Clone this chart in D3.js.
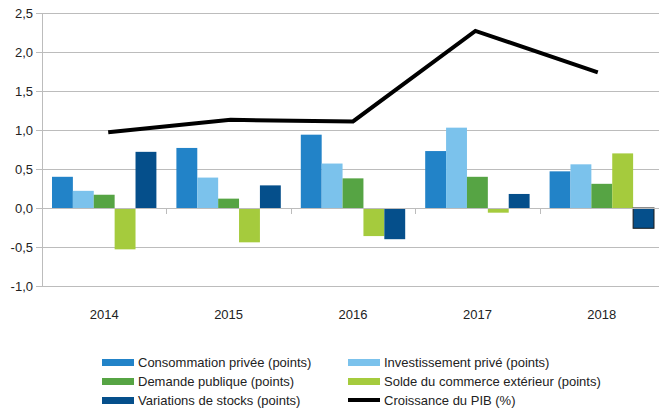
<!DOCTYPE html>
<html>
<head>
<meta charset="utf-8">
<script src="https://cdn.jsdelivr.net/npm/d3@7"></script>
<style>
  body { margin: 0; background: #fff; }
  text { font-family: "Liberation Sans", Arial, sans-serif; fill: #222; }
</style>
</head>
<body>
<svg class="chart" width="659" height="411"></svg>
<script>
var years = ['2014', '2015', '2016', '2017', '2018'];
var consommation = [0.40, 0.77, 0.94, 0.73, 0.47];
var investissement = [0.22, 0.39, 0.57, 1.03, 0.56];
var demande = [0.17, 0.12, 0.38, 0.40, 0.31];
var solde = [-0.53, -0.44, -0.36, -0.06, 0.70];
var stocks = [0.72, 0.29, -0.40, 0.18, -0.26];
var pib = [0.97, 1.13, 1.11, 2.27, 1.74];
var yTicks = [-1.0, -0.5, 0, 0.5, 1.0, 1.5, 2.0, 2.5];

var series = [
  { name: 'Consommation privée (points)', values: consommation, color: '#2283c8' },
  { name: 'Investissement privé (points)', values: investissement, color: '#7bc2ec' },
  { name: 'Demande publique (points)', values: demande, color: '#56a444' },
  { name: 'Solde du commerce extérieur (points)', values: solde, color: '#a5cb3d' },
  { name: 'Variations de stocks (points)', values: stocks, color: '#054f8b' }
];

var svg = d3.select('svg.chart');

var x = d3.scaleBand()
  .domain(years)
  .range([42, 664]);

var inner = d3.scaleBand()
  .domain(series.map(function(s) { return s.name; }))
  .range([10, x.bandwidth() - 10]);

var y = d3.scaleLinear()
  .domain([-1, 2.5])
  .range([286, 13]);

// gridlines
svg.append('g')
  .selectAll('line')
  .data(yTicks)
  .enter()
    .append('line')
      .attr('x1', 36)
      .attr('x2', 664)
      .attr('y1', function(d) { return Math.round(y(d)) + 0.5; })
      .attr('y2', function(d) { return Math.round(y(d)) + 0.5; })
      .attr('stroke', '#bcbcbc')
      .attr('stroke-width', 1);

// y labels
svg.append('g')
  .selectAll('text')
  .data(yTicks)
  .enter()
    .append('text')
      .attr('x', 33)
      .attr('y', function(d) { return y(d) + 5; })
      .attr('text-anchor', 'end')
      .style('font-size', '13px')
      .text(function(d) { return d3.format('.1f')(d).replace('.', ',').replace('−', '-'); });

// vertical axis line
svg.append('line')
  .attr('x1', 42.5).attr('x2', 42.5)
  .attr('y1', y(2.5)).attr('y2', y(-1))
  .attr('stroke', '#bcbcbc');

// bars
var groups = svg.selectAll('g.year')
  .data(years)
  .enter()
    .append('g')
      .attr('class', 'year')
      .attr('transform', function(d) { return 'translate(' + x(d) + ',0)'; });

groups.selectAll('rect')
  .data(function(d, i) {
    return series.map(function(s) { return { name: s.name, color: s.color, value: s.values[i], year: d }; });
  })
  .enter()
    .append('rect')
      .attr('x', function(d) { return inner(d.name); })
      .attr('width', inner.bandwidth())
      .attr('y', function(d) { return y(Math.max(0, d.value)); })
      .attr('height', function(d) { return Math.abs(y(d.value) - y(0)); })
      .attr('fill', function(d) { return d.color; })
      .attr('stroke', function(d) {
        // the last stock bar is outlined in the original
        return (d.year === '2018' && d.name === series[4].name) ? '#1a1a1a' : 'none';
      });

// x axis ticks at category boundaries
svg.append('g')
  .selectAll('line')
  .data(years.slice(1))
  .enter()
    .append('line')
      .attr('x1', function(d) { return Math.round(x(d)) + 0.5; })
      .attr('x2', function(d) { return Math.round(x(d)) + 0.5; })
      .attr('y1', y(0))
      .attr('y2', y(0) + 6)
      .attr('stroke', '#bcbcbc');

svg.append('line')
  .attr('x1', 42).attr('x2', 664)
  .attr('y1', Math.round(y(0)) + 0.5).attr('y2', Math.round(y(0)) + 0.5)
  .attr('stroke', '#bcbcbc');

// x labels
svg.append('g')
  .selectAll('text')
  .data(years)
  .enter()
    .append('text')
      .attr('x', function(d) { return x(d) + x.bandwidth() / 2; })
      .attr('y', 319)
      .attr('text-anchor', 'middle')
      .style('font-size', '13px')
      .text(function(d) { return d; });

// PIB line
var xl = d3.scalePoint()
  .domain(years)
  .range([x(years[0]) + x.bandwidth() / 2 + 4, x(years[4]) + x.bandwidth() / 2 - 4]);

var line = d3.line()
  .x(function(d, i) { return xl(years[i]); })
  .y(function(d) { return y(d); });

svg.append('path')
  .datum(pib)
  .attr('d', line)
  .attr('fill', 'none')
  .attr('stroke', '#000')
  .attr('stroke-width', 4);

// legend
var legendItems = series.map(function(s) { return { name: s.name, color: s.color, line: false }; });
legendItems.push({ name: 'Croissance du PIB (%)', color: '#000', line: true });

var legend = svg.append('g')
  .attr('class', 'legend')
  .selectAll('g')
  .data(legendItems)
  .enter()
    .append('g')
      .attr('transform', function(d, i) {
        return 'translate(' + (i % 2 === 0 ? 102 : 348) + ',' + (362 + Math.floor(i / 2) * 19) + ')';
      });

legend.append('rect')
  .attr('x', 0)
  .attr('y', function(d) { return d.line ? -2 : -3; })
  .attr('width', 32)
  .attr('height', function(d) { return d.line ? 4 : 7; })
  .attr('fill', function(d) { return d.color; });

legend.append('text')
  .attr('x', 36)
  .attr('y', 5)
  .style('font-size', '13px')
  .text(function(d) { return d.name; });
</script>
</body>
</html>
